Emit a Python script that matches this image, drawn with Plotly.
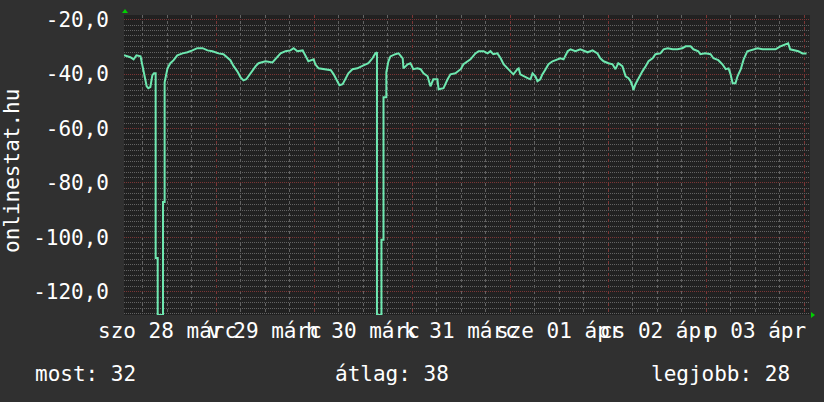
import plotly.graph_objects as go

# hours since 2020-03-28 00:00 and measured values
hours = [1.35, 2.4, 2.9, 3.7, 4.4, 5.4, 6.1, 6.9, 7.3, 7.8, 8.3, 8.7, 9.1, 9.1, 9.6, 9.6, 10.9, 10.9, 11.3, 11.3,
         12.0, 12.7, 13.5, 14.4, 15.7, 16.9, 18.1, 19.3, 20.6, 21.8, 23.0, 24.5, 25.7, 26.7, 27.4, 28.2, 29.1, 29.9,
         30.6, 31.3, 31.8, 32.8, 33.6, 34.3, 36.0, 37.7, 38.4, 39.7, 40.9, 42.1, 42.9, 43.8, 45.1, 45.8, 46.5, 47.8,
         48.2, 49.0, 50.7, 52.0, 52.7, 53.6, 54.1, 54.9, 55.6, 56.3, 57.3, 58.5, 60.0, 61.2, 62.2, 62.9, 63.3, 63.3,
         64.4, 64.4, 64.9, 64.9, 65.6, 65.6, 66.1, 66.6, 67.8, 68.6, 69.6, 69.8, 70.8, 71.5, 72.2, 73.2, 74.0, 74.7,
         75.7, 76.4, 77.1, 78.1, 78.4, 79.6, 80.6, 81.3, 82.5, 83.8, 84.5, 85.7, 86.2, 87.4, 88.2, 89.4, 90.4, 91.1,
         91.8, 92.8, 93.6, 94.3, 95.3, 96.0, 96.7, 97.7, 98.0, 98.4, 99.2, 100.2, 100.9, 101.4, 102.1, 102.6, 103.3,
         103.8, 104.6, 105.3, 106.3, 107.5, 108.2, 109.0, 110.0, 110.7, 111.9, 113.1, 114.9, 116.1, 117.3, 118.0,
         118.8, 120.0, 121.0, 121.7, 122.4, 123.4, 124.2, 124.9, 125.4, 125.9, 126.1, 126.6, 127.3, 128.3, 129.1,
         129.8, 130.8, 131.5, 132.7, 133.5, 134.5, 135.7, 136.9, 138.1, 138.9, 140.1, 140.8, 142.0, 142.5, 143.7,
         145.0, 145.7, 146.9, 147.9, 148.7, 149.4, 149.9, 150.4, 151.1, 151.6, 152.4, 153.1, 154.0, 155.3, 156.5,
         157.7, 158.9, 160.9, 162.1, 163.3, 164.0, 164.5, 165.8, 166.5, 167.5, 168.5]
values = [-33.1, -33.5, -33.8, -34.6, -33.1, -33.5, -38.6, -44.5, -45.2, -44.8, -40.4, -39.7, -39.7, -107.6, -107.6,
          -128.5, -128.5, -87.0, -87.0, -43.0, -37.9, -36.0, -34.9, -33.1, -32.4, -32.0, -31.3, -30.5, -30.5, -31.3,
          -31.6, -32.4, -32.7, -34.2, -34.9, -37.1, -39.0, -41.2, -42.3, -41.9, -40.8, -38.6, -37.1, -36.0, -35.3,
          -35.7, -34.6, -32.4, -31.6, -31.3, -30.5, -31.6, -31.3, -33.5, -35.3, -34.6, -36.4, -37.9, -38.2, -38.6,
          -40.1, -42.6, -44.1, -43.7, -41.9, -39.7, -38.2, -37.9, -36.8, -36.0, -34.2, -32.4, -32.0, -128.5, -128.5,
          -100.9, -100.9, -48.5, -48.5, -39.3, -35.3, -33.5, -32.7, -32.4, -34.2, -37.9, -36.4, -36.0, -38.2, -37.9,
          -38.2, -39.7, -40.8, -44.5, -41.9, -41.9, -45.6, -45.2, -41.9, -40.1, -39.7, -38.2, -36.4, -35.3, -34.6,
          -32.4, -31.6, -31.6, -32.4, -31.6, -32.7, -32.4, -34.2, -36.4, -37.9, -39.0, -40.1, -38.2, -37.9, -40.1,
          -40.8, -41.5, -41.9, -39.7, -40.8, -42.6, -41.9, -40.1, -38.2, -36.4, -35.3, -34.6, -34.2, -34.6, -31.6,
          -30.9, -31.6, -30.9, -32.0, -31.3, -32.4, -34.2, -35.3, -36.0, -36.4, -38.2, -36.0, -37.1, -40.8, -41.5,
          -42.6, -44.5, -45.9, -43.7, -41.5, -39.0, -37.1, -35.3, -34.2, -32.7, -32.4, -30.9, -30.5, -30.9, -30.9,
          -30.5, -29.8, -29.8, -30.9, -31.6, -32.7, -32.4, -32.7, -34.2, -34.9, -36.4, -38.2, -37.9, -40.1, -43.4,
          -43.4, -40.8, -38.2, -34.6, -31.6, -30.9, -30.5, -30.9, -30.9, -30.9, -29.8, -29.1, -28.7, -30.9, -31.3,
          -31.6, -32.4, -32.4]

day_ticks = [0, 24, 48, 72, 96, 120, 144, 168]
six_hour_ticks = [h for h in range(0, 175, 6) if h % 24]
label_pos = [12, 36, 60, 84, 108, 132, 156]
day_labels = ["szo 28 márc", "v 29 márc", "h 30 márc", "k 31 márc", "sze 01 ápr", "cs 02 ápr", "p 03 ápr"]
y_ticks = [-120, -100, -80, -60, -40, -20]
y_labels = ["-120,0", "-100,0", "-80,0", "-60,0", "-40,0", "-20,0"]
stat_names = ["most", "átlag", "legjobb"]
stat_values = [32, 38, 28]

FONT = "DejaVu Sans Mono"
FS = 21
W, H = 824, 402
L, R, T, B = 124, 14, 15, 87
PW, PH = W - L - R, H - T - B
X_RANGE = [1.35, 169.35]
Y_RANGE = [-128.5, -18.3]

def px_x(p):
    return (p - L) / PW

def px_y(p):
    return (H - B - p) / PH

fig = go.Figure()
fig.add_trace(go.Scatter(x=hours, y=values, mode="lines",
                         line=dict(color="#6ee8b0", width=2), showlegend=False, hoverinfo="skip"))

grid_minor = "#626262"
grid_major = "#7a3535"

fig.update_layout(
    width=W, height=H,
    margin=dict(l=L, r=R, t=T, b=B, pad=0),
    paper_bgcolor="#303030", plot_bgcolor="#212121",
    font=dict(family=FONT, size=FS, color="#ffffff"),
    xaxis=dict(range=X_RANGE, tickmode="array", tickvals=day_ticks, showticklabels=False,
               showgrid=True, gridcolor=grid_major, griddash="dot", gridwidth=1,
               zeroline=False, ticks="", showline=False, automargin=False,
               minor=dict(tickmode="array", tickvals=six_hour_ticks, showgrid=True, gridcolor=grid_minor,
                          griddash="dot", gridwidth=1, ticks="")),
    yaxis=dict(range=Y_RANGE, tickmode="array", tickvals=y_ticks, ticktext=y_labels,
               showgrid=True, gridcolor=grid_major, griddash="1px,1px", gridwidth=1, zeroline=False, ticks="",
               ticklabelstandoff=14, automargin=False, tickfont=dict(family=FONT, size=FS, color="#ffffff"),
               minor=dict(dtick=2, tick0=0, showgrid=True, gridcolor=grid_minor, griddash="1px,1px",
                          gridwidth=1, ticks="")),
)

# day labels centred at noon
for pos, lab in zip(label_pos, day_labels):
    fig.add_annotation(text=lab, xref="x", yref="paper", x=pos, y=px_y(317), showarrow=False,
                       xanchor="center", yanchor="top", font=dict(family=FONT, size=FS, color="#ffffff"))

# axis arrows
fig.add_shape(type="path", xref="paper", yref="paper", xsizemode="pixel", ysizemode="pixel",
              xanchor=px_x(125), yanchor=1, path="M -3,2 L 3,2 L 0,6 Z",
              fillcolor="#00d000", line=dict(width=0))
fig.add_shape(type="path", xref="paper", yref="paper", xsizemode="pixel", ysizemode="pixel",
              xanchor=1, yanchor=0, path="M 1,-3 L 1,3 L 5,0 Z",
              fillcolor="#00d000", line=dict(width=0))

# y title
fig.add_annotation(text="onlinestat.hu", textangle=-90, xref="paper", yref="paper",
                   x=px_x(12), y=px_y(171), showarrow=False, xanchor="center", yanchor="middle",
                   font=dict(family=FONT, size=FS, color="#ffffff"))

# summary line
stat_x = [33, 392, 792]
stat_anchor = ["left", "center", "right"]
for name, val, sx, anc in zip(stat_names, stat_values, stat_x, stat_anchor):
    fig.add_annotation(text=f"{name}: {val}", xref="paper", yref="paper", x=px_x(sx), y=px_y(374),
                       showarrow=False, xanchor=anc, yanchor="middle",
                       font=dict(family=FONT, size=FS, color="#ffffff"))

fig.write_html("out.html", config={"displayModeBar": False},
               post_script="document.body.style.margin='0';document.body.style.overflow='hidden';")
